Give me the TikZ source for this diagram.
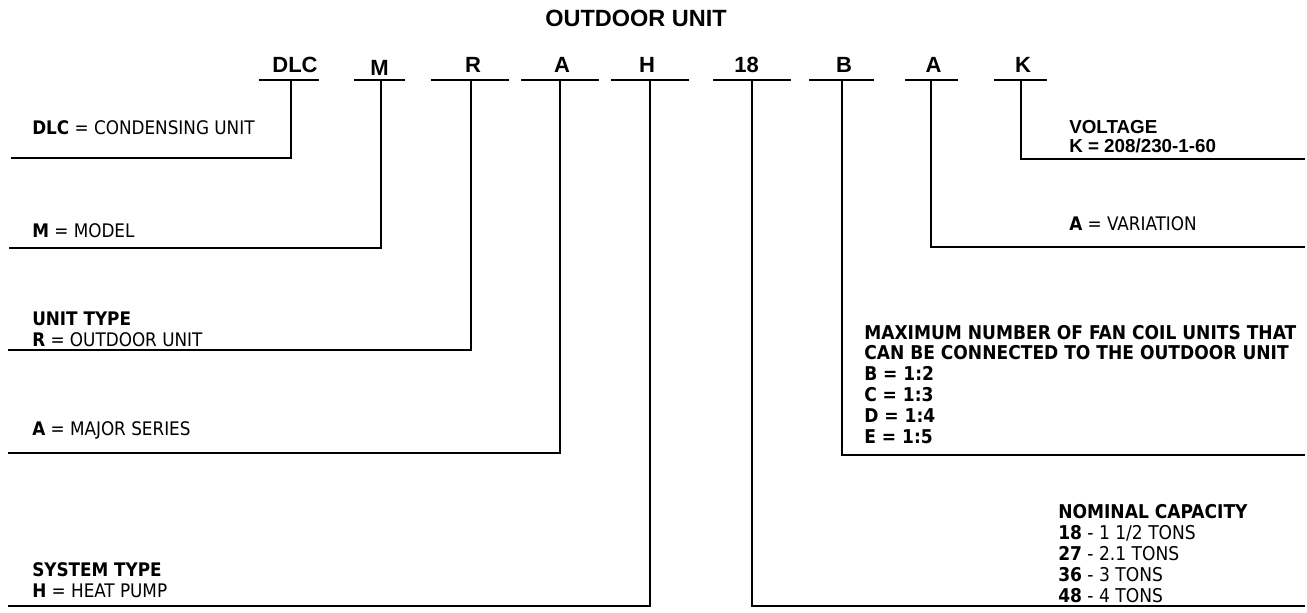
\documentclass[tikz,border=0pt]{standalone}
\usepackage{fontspec}
\setmainfont{Liberation Sans}
\newfontfamily\descfont{DejaVu Sans Condensed}
\begin{document}
\begin{tikzpicture}[x=1pt,y=-1pt,line width=2.5pt,
  code/.style={font=\fontsize{22}{22}\selectfont\bfseries,inner sep=0,anchor=base},
  desc/.style={font=\descfont\fontsize{18.7}{20.5}\selectfont,inner sep=0,anchor=base west,align=left},
  descb/.style={font=\descfont\fontsize{19}{20.8}\selectfont,inner sep=0,anchor=base west,align=left},
  volt/.style={font=\bfseries\fontsize{18.8}{19}\selectfont,inner sep=0,anchor=base west,align=left}]
\useasboundingbox (0,0) rectangle (1307,613);
\node[font=\bfseries\fontsize{23.5}{24}\selectfont,inner sep=0,anchor=base] (title) at (636,27) {OUTDOOR UNIT};
\foreach \n/\t/\tx/\ty/\bl/\br/\vx/\vy/\ex in {
  DLC/DLC/295/72/259/319/291/158/11,
  M/M/379.5/75/354/405/381/248/9,
  R/R/473/72/431/509/471/350/8,
  Aa/A/562/72/521/599/560/453/8,
  H/H/647/72/611/689/650/606/8,
  N/18/746.5/72/713/791/752/606/1305,
  B/B/844/72/809/874/842/455/1305,
  Ab/A/933.5/72/905/958/931/247/1305,
  K/K/1023/72/994/1047/1021/159/1305}{
  \node[code] (c\n) at (\tx,\ty) {\t};
  \coordinate (bl\n) at (\bl,80);
  \coordinate (br\n) at (\br,80);
  \coordinate (top\n) at (\vx,80);
  \coordinate (end\n) at (\ex,\vy);
  \draw (bl\n) -- (br\n);
  \draw (top\n) |- (end\n);
}
\node[desc] (dDLC) at (31,134) {\textbf{DLC} = CONDENSING UNIT};
\node[desc] (dM) at (31,237) {\textbf{M} = MODEL};
\node[desc] (dR) at (31,346) {\textbf{UNIT TYPE}\\\textbf{R} = OUTDOOR UNIT};
\node[desc] (dA) at (31,435) {\textbf{A} = MAJOR SERIES};
\node[desc] (dH) at (31,597) {\textbf{SYSTEM TYPE}\\\textbf{H} = HEAT PUMP};
\node[volt] (dK) at (1068,152) {VOLTAGE\\K = 208/230-1-60};
\node[desc] (dAb) at (1068,230) {\textbf{A} = VARIATION};
\node[descb,font=\descfont\bfseries\fontsize{19}{20.8}\selectfont] (dB) at (863,443) {MAXIMUM NUMBER OF FAN COIL UNITS THAT\\CAN BE CONNECTED TO THE OUTDOOR UNIT\\B = 1:2\\C = 1:3\\D = 1:4\\E = 1:5};
\node[descb] (dN) at (1057,602) {\textbf{NOMINAL CAPACITY}\\\textbf{18} - 1 1/2 TONS\\\textbf{27} - 2.1 TONS\\\textbf{36} - 3 TONS\\\textbf{48} - 4 TONS};
\end{tikzpicture}
\end{document}
